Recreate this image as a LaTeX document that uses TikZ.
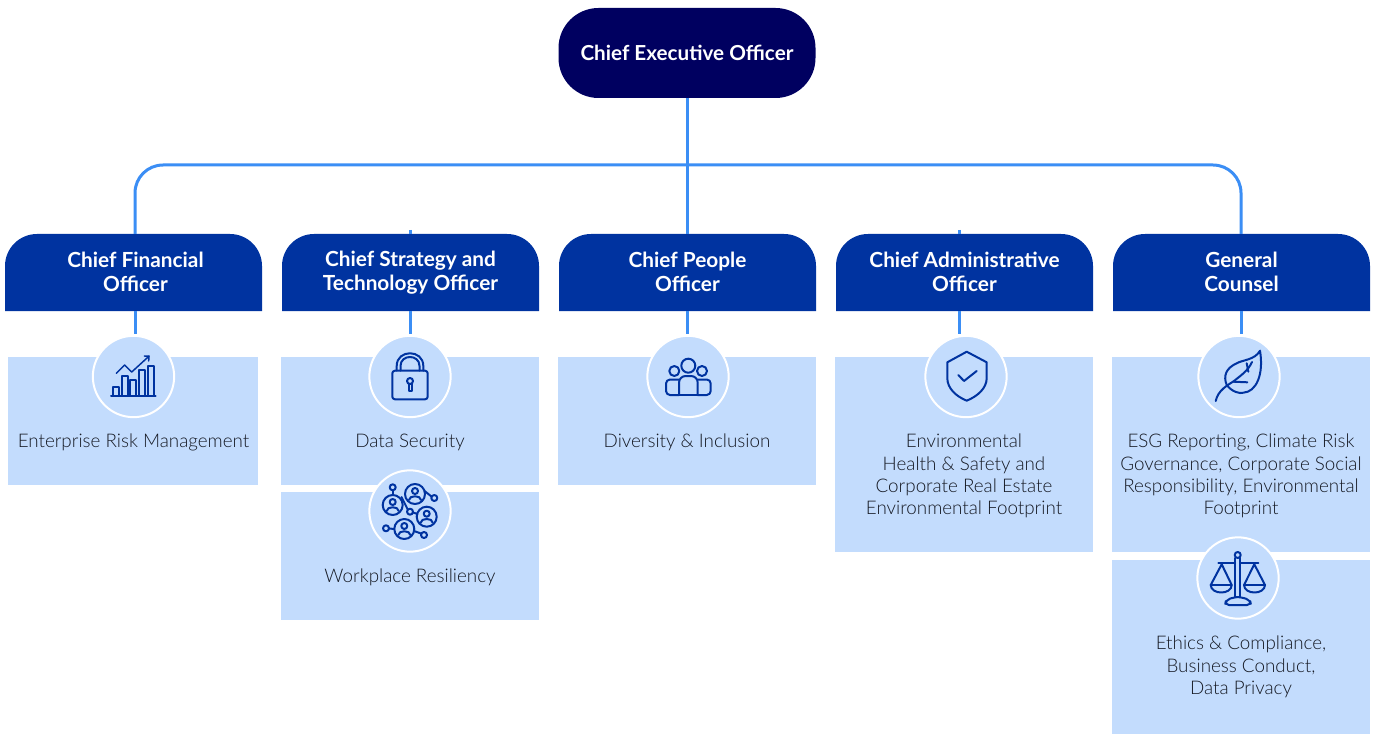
\documentclass[tikz,border=0pt]{standalone}
\usepackage{fontspec}
\setmainfont{Lato}
\newfontfamily\lightfont{Lato}[UprightFont={* Light}]
\definecolor{ceoNavy}{RGB}{0,0,96}
\definecolor{headBlue}{RGB}{0,51,160}
\definecolor{lineBlue}{RGB}{59,142,245}
\definecolor{paleBlue}{RGB}{195,220,253}
\definecolor{bodyGrey}{RGB}{22,26,36}
\newcommand{\linestrut}{\rule[-.23\baselineskip]{0pt}{\baselineskip}}
\newcommand{\headstrut}{\rule[-.05\baselineskip]{0pt}{\baselineskip}}
\tikzset{every picture/.style={line width=0.75pt}}
\tikzset{
  headtext/.style={inner sep=0pt,outer sep=0pt,minimum width=192.75pt,minimum height=57.75pt,align=center,text=white,font=\fontsize{15.6}{18}\selectfont\bfseries,execute at begin node=\headstrut,execute at end node=\headstrut},
  areabox/.style={anchor=north west,inner sep=0pt,outer sep=0pt,fill=paleBlue,minimum width=193.5pt},
  bodytext/.style={inner sep=0pt,align=center,text=bodyGrey,font=\fontsize{14.1}{16.8}\selectfont\lightfont,execute at begin node=\linestrut,execute at end node=\linestrut},
  iconring/.style={circle,inner sep=0pt,outer sep=0pt,minimum size=61pt,fill=paleBlue,draw=white,line width=1.5pt},
  stem/.style={color=lineBlue,line width=2.25pt},
  glyph/.style={color=headBlue,line width=1.5pt,line join=round,line cap=round}
}
\begin{document}
\begin{tikzpicture}[x=0.75pt,y=0.75pt,yscale=-1,xscale=1]
\useasboundingbox (0,0) rectangle (1373,734);

% Free ends of the connectors
\coordinate (busL) at (135,165);
\coordinate (busR) at (1241,165);
\coordinate (stemA) at (135,334);
\coordinate (stemB) at (410,334);
\coordinate (stemC) at (687,334);
\coordinate (stemD) at (959,334);
\coordinate (stemE) at (1241,334);
\coordinate (tickB) at (410,230);
\coordinate (tickD) at (959,230);

% Header shapes
\foreach \hx in {5,282,559,836,1113}
  \fill [headBlue] (\hx,311) [rounded corners=24pt] -- (\hx,234) -- ({\hx+257},234) [sharp corners] -- ({\hx+257},311) -- cycle;

% Header nodes
\path (135.5,272.5) node [headtext] (cfo) {Chief Financial\\Officer};
\path (410.5,272.5) node [headtext] (cso) {Chief Strategy and\\Technology Officer};
\path (687.5,272.5) node [headtext] (cpo) {Chief People\\Officer};
\path (964.5,272.5) node [headtext] (cao) {Chief Administrative\\Officer};
\path (1241.5,272.5) node [headtext] (gc) {General\\Counsel};

% CEO
\path (687,53) node [inner sep=0pt,outer sep=0pt,fill=ceoNavy,rounded corners=30pt,minimum width=192.75pt,minimum height=67.5pt,text=white,font=\fontsize{15.5}{18}\selectfont\bfseries] (ceo) {Chief Executive Officer};

% Connectors
\draw [stem] (stemC |- ceo.south) -- (stemC |- cpo.north);
\draw [stem,rounded corners=21pt] (stemA |- cfo.north) -- (busL) -- (busR) -- (stemE |- gc.north);
\draw [stem] (tickB) -- (tickB |- cso.north);
\draw [stem] (tickD) -- (tickD |- cao.north);
\draw [stem] (stemA |- cfo.south) -- (stemA);
\draw [stem] (stemB |- cso.south) -- (stemB);
\draw [stem] (stemC |- cpo.south) -- (stemC);
\draw [stem] (stemD |- cao.south) -- (stemD);
\draw [stem] (stemE |- gc.south) -- (stemE);

% Area boxes
\path (8,357) node [areabox,minimum width=187.5pt,minimum height=96pt] (boxRisk) {};
\path (281,357) node [areabox,minimum height=96pt] (boxData) {};
\path (281,492) node [areabox,minimum height=96pt] (boxWork) {};
\path (558,357) node [areabox,minimum height=96pt] (boxDiv) {};
\path (835,357) node [areabox,minimum height=146.25pt] (boxEnv) {};
\path (1112,357) node [areabox,minimum height=146.25pt] (boxEsg) {};
\path (1112,560) node [areabox,minimum height=130.5pt] (boxEth) {};

% Icon circles
\path (133.5,376.5) node [iconring] (ringRisk) {};
\path (410,376.5) node [iconring] (ringData) {};
\path (410,511) node [iconring] (ringWork) {};
\path (688,376.5) node [iconring] (ringDiv) {};
\path (966,376.5) node [iconring] (ringEnv) {};
\path (1239,376.5) node [iconring] (ringEsg) {};
\path (1238,578) node [iconring] (ringEth) {};

% Area texts
\path (133.5,441) node [bodytext] (txtRisk) {Enterprise Risk Management};
\path (410,441) node [bodytext] (txtData) {Data Security};
\path (410,576) node [bodytext] (txtWork) {Workplace Resiliency};
\path (687,441) node [bodytext] (txtDiv) {Diversity \& Inclusion};
\path (964,477) node [bodytext] (txtEnv) {Environmental\\Health \& Safety and\\Corporate Real Estate\\Environmental Footprint};
\path (1241,477) node [bodytext] (txtEsg) {ESG Reporting, Climate Risk\\Governance, Corporate Social\\Responsibility, Environmental\\Footprint};
\path (1241,668) node [bodytext] (txtEth) {Ethics \& Compliance,\\Business Conduct,\\Data Privacy};

% Icon: chart
\draw [glyph] (111,395.7) -- (155.7,395.7);
\draw [glyph] (112.7,395.7) rectangle (118.7,386.7);
\draw [glyph] (121.7,395.7) rectangle (127.7,375.7);
\draw [glyph] (130.3,395.7) rectangle (136.3,380);
\draw [glyph] (139,395.7) rectangle (145,370);
\draw [glyph] (147.7,395.7) rectangle (153.7,365.7);
\draw [glyph,line width=1.1pt] (116.3,373.3) -- (124.7,365) -- (131.7,372) -- (149,356.2);
\draw [glyph,line width=1.1pt] (144.3,356) -- (149,356.2) -- (148.7,361);

% Icon: padlock
\draw [glyph,rounded corners=2pt] (392.3,370.7) rectangle (427.7,399.3);
\draw [glyph] (396.7,370.7) -- (396.7,366) .. controls (396.7,349) and (423.3,349) .. (423.3,366) -- (423.3,370.7);
\draw [glyph] (400.5,370.7) -- (400.5,366) .. controls (400.5,354) and (419.5,354) .. (419.5,366) -- (419.5,370.7);
\draw [glyph] (410,381) circle [radius=3];
\draw [glyph] (408.5,384) -- (408.5,390.7) -- (411.5,390.7) -- (411.5,384);

% Icon: network
\foreach \px/\py in {392.7/505,415/494,426.7/516.7,404.3/529}{
  \draw [glyph] (\px,\py) circle [radius=10];
  \draw [glyph] (\px,{\py-3}) circle [radius=3];
  \draw [glyph] ({\px-6},{\py+6}) .. controls ({\px-6},{\py+1}) and ({\px+6},{\py+1}) .. ({\px+6},{\py+6});
}
\foreach \px/\py in {392.7/487.3,434.3/498,410/511.7,386/528.3,424/535}
  \draw [glyph] (\px,\py) circle [radius=3];
\draw [glyph] (392.7,490.3) -- (392.7,495);
\draw [glyph] (424.5,491) -- (431.6,496.6);
\draw [glyph] (401.5,497) -- (407.8,509.6);
\draw [glyph] (413,512.5) -- (417.5,514);
\draw [glyph] (389,528.5) -- (394.3,529);
\draw [glyph] (414,531) -- (421.3,533.6);

% Icon: people
\draw [glyph] (688.3,365.7) circle [radius=7];
\draw [glyph] (674.3,371) circle [radius=5];
\draw [glyph] (702,371) circle [radius=5];
\draw [glyph,rounded corners=3pt] (679,395) -- (666,395) -- (666,379.5) -- (679,379.5);
\draw [glyph,rounded corners=3pt] (697.7,379.5) -- (710.7,379.5) -- (710.7,395) -- (697.7,395);
\draw [glyph,rounded corners=5pt] (679,395) -- (679,376) -- (697.7,376) -- (697.7,395);
\draw [glyph] (679,395) -- (697.7,395);

% Icon: shield
\draw [glyph] (966.7,351.7) -- (986.7,362.3) -- (986.7,378) .. controls (986.7,388) and (978,396) .. (966.7,400.7) .. controls (955.4,396) and (947.3,388) .. (947.3,378) -- (947.3,362.3) -- cycle;
\draw [glyph] (958.3,375) -- (964,381) -- (976.7,371);

% Icon: leaf
\draw [glyph] (1260,350.7) .. controls (1255,360) and (1242,360) .. (1236.7,363.3) .. controls (1226,368) and (1223,376) .. (1226.7,385) .. controls (1232,392) and (1240,394) .. (1243.3,392.7) .. controls (1256,392) and (1264,375) .. cycle;
\draw [glyph] (1215.7,401) .. controls (1218,390) and (1228,385) .. (1234,381) .. controls (1240,376) and (1248,371) .. (1252,362);
\draw [glyph] (1246.7,363.3) -- (1248.3,371.7);
\draw [glyph] (1233.3,381.7) -- (1247.3,382.3);

% Icon: scales
\draw [glyph] (1237.7,555) circle [radius=3];
\draw [glyph] (1235,558) -- (1235,597);
\draw [glyph] (1240.4,558) -- (1240.4,597);
\draw [glyph] (1218.3,563.3) -- (1235,563.3);
\draw [glyph] (1240.4,563.3) -- (1258.3,563.3);
\draw [glyph] (1221.7,564.3) -- (1210.7,585) .. controls (1211,595) and (1231.5,595) .. (1231.7,585) -- cycle;
\draw [glyph] (1254.3,564.3) -- (1244,585) .. controls (1244.3,595) and (1264.7,595) .. (1265,585) -- cycle;
\draw [glyph] (1210.7,585) -- (1231.7,585);
\draw [glyph] (1244,585) -- (1265,585);
\draw [glyph,rounded corners=3pt] (1225,605) -- (1226,600) -- (1235,597) -- (1240.4,597) -- (1250,600) -- (1251,605) -- cycle;

\end{tikzpicture}
\end{document}
